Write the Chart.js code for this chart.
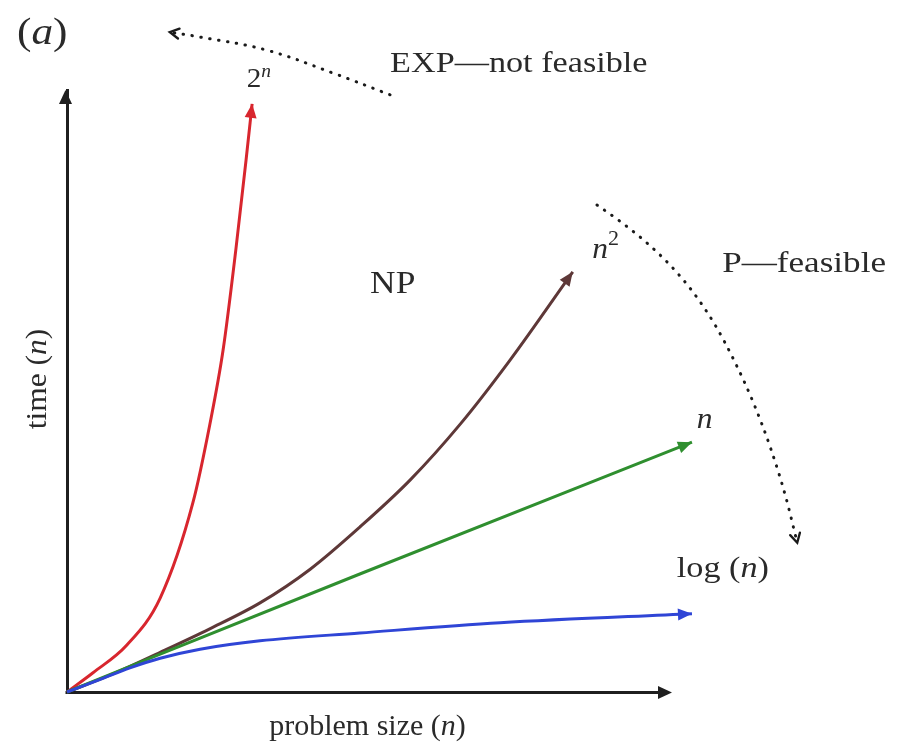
<!DOCTYPE html>
<html><head><meta charset="utf-8">
<script src="https://cdn.jsdelivr.net/npm/chart.js@4.4.0/dist/chart.umd.min.js"></script>
<style>html,body{margin:0;padding:0;background:#fff}#wrap{width:901px;height:742px}</style>
</head><body><div id="wrap"><canvas id="c" width="901" height="742"></canvas></div>
<script>
// ---- data (problem size vs time, arbitrary units) ----
const expX = [0, 0.43, 0.99, 1.54, 2.08, 2.36, 2.58, 2.79, 2.96, 3.06];
const expY = [0, 0.32, 0.78, 1.56, 3.14, 4.44, 5.68, 7.34, 8.84, 9.77];
const sqX  = [0, 0.71, 1.54, 2.36, 3.19, 4.02, 4.84, 5.67, 6.50, 7.32, 8.36];
const sqY  = [0, 0.28, 0.66, 1.05, 1.48, 2.04, 2.74, 3.52, 4.45, 5.51, 6.98];
const linX = [0, 1.54, 4.84, 10.33];
const linY = [0, 0.63, 1.96, 4.15];
const logX = [0, 0.55, 1.04, 1.54, 2.20, 3.19, 4.84, 7.16, 10.33];
const logY = [0, 0.21, 0.40, 0.56, 0.71, 0.85, 0.98, 1.15, 1.30];
// dotted annotation arrows
const expArrowX = [5.34, 4.40, 3.31, 2.20, 1.70];
const expArrowY = [9.92, 10.28, 10.66, 10.88, 10.96];
const pArrowX = [8.76, 9.14, 9.55, 9.97, 10.35, 10.71, 11.04, 11.36, 11.64, 11.88, 12.07];
const pArrowY = [8.09, 7.82, 7.49, 7.09, 6.64, 6.10, 5.48, 4.77, 4.02, 3.24, 2.48];
// axis extents (drawn axes) and scale range
const xAxisEnd = 10;
const xRange = [0, 12.5];
const yRange = [0, 10];

const pts = (xs, ys) => xs.map((x, i) => ({x, y: ys[i]}));
const SERIF = '"Liberation Serif", "Times New Roman", serif';
const TXT = '#2a2a2a';

// text annotations: anchor in data units, rich segments
const labels = [
  {x: 5.34, y: 10.30, sx: 1.14, segs: [{t: 'EXP\u2014not feasible', s: 30}]},
  {x: 2.97, y: 10.05, sx: 1.08, segs: [{t: '2', s: 27}, {t: 'n', s: 18, i: true, up: 10}]},
  {x: 5.01, y: 6.63, sx: 1.14, segs: [{t: 'NP', s: 31}]},
  {x: 8.68, y: 7.21, sx: 1.05, segs: [{t: 'n', s: 30, i: true}, {t: '2', s: 21, up: 13}]},
  {x: 10.83, y: 6.98, sx: 1.17, segs: [{t: 'P\u2014feasible', s: 30}]},
  {x: 10.41, y: 4.39, sx: 1.05, segs: [{t: 'n', s: 30, i: true}]},
  {x: 10.08, y: 1.91, sx: 1.14, segs: [{t: 'log (', s: 30}, {t: 'n', s: 30, i: true}, {t: ')', s: 30}]}
];
const xTitle = [{t: 'problem size (', s: 30}, {t: 'n', s: 30, i: true}, {t: ')', s: 30}];
const yTitle = [{t: 'time (', s: 30}, {t: 'n', s: 30, i: true}, {t: ')', s: 30}];
const panel = [{t: '(', s: 38}, {t: 'a', s: 38, i: true}, {t: ')', s: 38}];

function fontOf(seg) { return (seg.i ? 'italic ' : '') + seg.s + 'px ' + SERIF; }
function segWidth(ctx, segs) {
  let w = 0;
  segs.forEach(sg => { ctx.font = fontOf(sg); w += ctx.measureText(sg.t).width; });
  return w;
}
function drawSegs(ctx, segs, x, y, sx) {
  ctx.save();
  ctx.translate(x, y);
  ctx.scale(sx || 1, 1);
  let cx = 0;
  segs.forEach(sg => {
    ctx.font = fontOf(sg);
    ctx.fillText(sg.t, cx, -(sg.up || 0));
    cx += ctx.measureText(sg.t).width;
  });
  ctx.restore();
}

const arrowPlugin = {
  id: 'arrows',
  beforeDatasetsDraw(chart) {
    const ctx = chart.ctx;
    const xs = chart.scales.x, ys = chart.scales.y;
    // x axis line from 0 to xAxisEnd
    ctx.save();
    ctx.strokeStyle = '#1f1f1f'; ctx.lineWidth = 3;
    const y0 = ys.getPixelForValue(0) + 0.5;
    ctx.beginPath();
    ctx.moveTo(xs.getPixelForValue(0) - 1.5, y0);
    ctx.lineTo(xs.getPixelForValue(xAxisEnd) - 6, y0);
    ctx.stroke();
    ctx.restore();
  },
  afterDatasetsDraw(chart) {
    const ctx = chart.ctx;
    const xs = chart.scales.x, ys = chart.scales.y;
    ctx.save();
    ctx.fillStyle = '#1f1f1f';
    const head = (tx, ty, dx, dy, L, W) => {
      const n = Math.hypot(dx, dy); dx /= n; dy /= n;
      ctx.beginPath();
      ctx.moveTo(tx, ty);
      ctx.lineTo(tx - dx * L - dy * W, ty - dy * L + dx * W);
      ctx.lineTo(tx - dx * L + dy * W, ty - dy * L - dx * W);
      ctx.closePath(); ctx.fill();
    };
    head(xs.getPixelForValue(0) - 1.5, ys.getPixelForValue(yRange[1]), 0, -1, 14, 6.5);
    head(xs.getPixelForValue(xAxisEnd), ys.getPixelForValue(0) + 0.5, 1, 0, 14, 6.5);
    chart.data.datasets.forEach((ds, di) => {
      const meta = chart.getDatasetMeta(di);
      const els = meta.data; const n = els.length;
      const p = els[n - 1];
      let qx = p.cp1x, qy = p.cp1y;
      if (qx === undefined || (Math.abs(qx - p.x) < 0.5 && Math.abs(qy - p.y) < 0.5)) { qx = els[n - 2].x; qy = els[n - 2].y; }
      const dx = p.x - qx, dy = p.y - qy;
      if (ds.arrow === 'solid') {
        ctx.fillStyle = ds.borderColor;
        head(p.x, p.y, dx, dy, 14, 6);
      } else if (ds.arrow === 'open') {
        const nn = Math.hypot(dx, dy); const ux = dx / nn, uy = dy / nn;
        const L = 9, W = 5;
        ctx.strokeStyle = ds.borderColor; ctx.lineWidth = 2.4; ctx.lineCap = 'round';
        ctx.beginPath();
        ctx.moveTo(p.x - ux * L - uy * W, p.y - uy * L + ux * W);
        ctx.lineTo(p.x, p.y);
        ctx.lineTo(p.x - ux * L + uy * W, p.y - uy * L - ux * W);
        ctx.stroke();
      }
    });
    ctx.restore();
  },
  afterDraw(chart) {
    const ctx = chart.ctx;
    const xs = chart.scales.x, ys = chart.scales.y;
    const left = xs.getPixelForValue(0), right = xs.getPixelForValue(xAxisEnd);
    const top = ys.getPixelForValue(yRange[1]), bottom = ys.getPixelForValue(0);
    ctx.save();
    ctx.fillStyle = TXT;
    ctx.textBaseline = 'alphabetic';
    ctx.textAlign = 'left';
    labels.forEach(l => drawSegs(ctx, l.segs, xs.getPixelForValue(l.x), ys.getPixelForValue(l.y), l.sx));
    // x title
    const wx = segWidth(ctx, xTitle);
    drawSegs(ctx, xTitle, (left + right) / 2 - wx / 2 - 2, bottom + 43, 1);
    // y title
    const wy = segWidth(ctx, yTitle) * 1.05;
    ctx.save();
    ctx.translate(left - 21, (top + bottom) / 2 - 12);
    ctx.rotate(-Math.PI / 2);
    drawSegs(ctx, yTitle, -wy / 2, 0, 1.05);
    ctx.restore();
    // panel label
    drawSegs(ctx, panel, 17, 44, 1.14);
    ctx.restore();
  }
};

const lineDs = (xs, ys, color) => ({
  data: pts(xs, ys), borderColor: color, borderWidth: 3, pointRadius: 0,
  cubicInterpolationMode: 'monotone', clip: false, arrow: 'solid', fill: false
});
const dotDs = (xs, ys, mono) => ({
  data: pts(xs, ys), borderColor: '#1a1a1a', borderWidth: 3, pointRadius: 0,
  tension: 0.4, cubicInterpolationMode: mono ? 'monotone' : 'default',
  borderDash: [0.5, 8.5], borderCapStyle: 'round', clip: false, arrow: 'open', fill: false
});

new Chart(document.getElementById('c'), {
  type: 'line',
  data: {
    datasets: [
      lineDs(logX, logY, '#2f45d6'),
      lineDs(linX, linY, '#2f8f2f'),
      lineDs(sqX, sqY, '#5e3838'),
      lineDs(expX, expY, '#d8262e'),
      dotDs(expArrowX, expArrowY, false),
      dotDs(pArrowX, pArrowY, true)
    ]
  },
  options: {
    responsive: false, animation: false, devicePixelRatio: 1,
    layout: {padding: {top: 90, right: 77.75, left: 0, bottom: 0}},
    plugins: {legend: {display: false}, tooltip: {enabled: false}},
    scales: {
      x: {type: 'linear', min: xRange[0], max: xRange[1],
          grid: {display: false}, ticks: {display: false},
          border: {display: false},
          afterFit(s) { s.height = 50; }},
      y: {type: 'linear', min: yRange[0], max: yRange[1],
          grid: {display: false}, ticks: {display: false},
          border: {display: true, color: '#1f1f1f', width: 3},
          afterFit(s) { s.width = 67; }}
    }
  },
  plugins: [arrowPlugin]
});
</script></body></html>
